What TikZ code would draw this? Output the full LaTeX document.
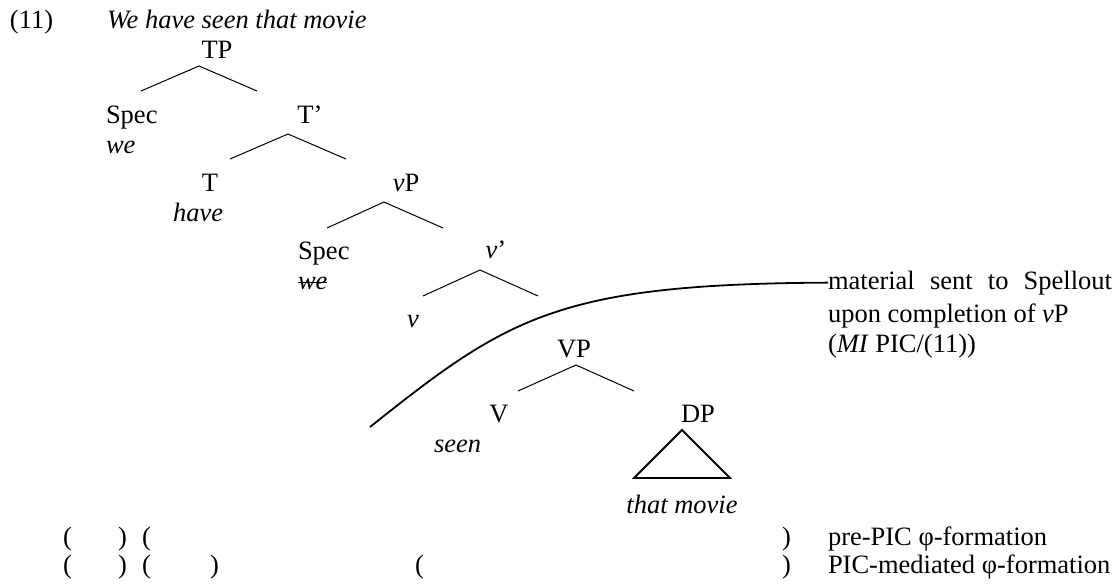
\documentclass[tikz,border=0pt]{standalone}
\usepackage{fontspec}
\setmainfont{Liberation Serif}
\begin{document}
\begin{tikzpicture}[x=0.5pt,y=-0.5pt,
  lbl/.style={inner sep=0pt,outer sep=0pt,font=\fontsize{13.25}{15}\selectfont},
  lw/.style={lbl,anchor=base west},
  lc/.style={lbl,anchor=base},
  branch/.style={line width=0.5pt},
  strike/.style={line width=0.45pt},
  tri/.style={line width=0.9pt,line join=miter},
  spell/.style={line width=0.9pt}]
\useasboundingbox (0,0) rectangle (1119,584);

% example line
\node[lw] (ex) at (10,28) {(11)};
\node[lw] (title) at (107,28) {\textit{We have seen that movie}};

% tree labels
\node[lc] (TP) at (217,58) {TP};
\node[lw] (spec1) at (106,123) {Spec};
\node[lw] (we1) at (106,153) {\textit{we}};
\node[lc] (Tbar) at (310,123) {T’};
\node[lc] (T) at (210,191) {T};
\node[lw] (have) at (173,221) {\textit{have}};
\node[lc] (vP) at (406,191) {\textit{v}P};
\node[lw] (spec2) at (298,259) {Spec};
\node[lw] (we2) at (298,289) {\textit{we}};
\draw[strike] ([yshift=3.3pt]we2.base west) -- ([yshift=3.3pt]we2.base east);
\node[lc] (vbar) at (496,258) {\textit{v}’};
\node[lw] (v) at (407,327) {\textit{v}};
\node[lc] (VP) at (574,357) {VP};
\node[lc] (V) at (499,422) {V};
\node[lw] (seen) at (434,452) {\textit{seen}};
\node[lc] (DP) at (698,422) {DP};
\node[lc] (movie) at (682,513) {\textit{that movie}};

% branch points
\coordinate (tpA) at (199,66);  \coordinate (tpL) at (141,91);  \coordinate (tpR) at (257,91);
\coordinate (tbA) at (288,134); \coordinate (tbL) at (230,159); \coordinate (tbR) at (346,159);
\coordinate (vpA) at (384,202); \coordinate (vpL) at (327,228); \coordinate (vpR) at (443,228);
\coordinate (vbA) at (480,270); \coordinate (vbL) at (423,296); \coordinate (vbR) at (538,296);
\coordinate (VPA) at (576,365); \coordinate (VPL) at (518,391); \coordinate (VPR) at (634,391);
\coordinate (dpA) at (682,430); \coordinate (dpL) at (634,478); \coordinate (dpR) at (730,478);

\draw[branch] (tpL) -- (tpA) -- (tpR);
\draw[branch] (tbL) -- (tbA) -- (tbR);
\draw[branch] (vpL) -- (vpA) -- (vpR);
\draw[branch] (vbL) -- (vbA) -- (vbR);
\draw[branch] (VPL) -- (VPA) -- (VPR);
\draw[tri] (dpA) -- (dpL) -- (dpR) -- cycle;

% spellout annotation
\node[lw] (mat) at (828,289) {\makebox[142pt][s]{material sent to Spellout}};
\node[lw] (upon) at (828,322) {upon completion of \textit{v}P};
\node[lw] (mi) at (828,352) {(\textit{MI} PIC/(11))};
\coordinate (cutS) at (370,427);
\draw[spell] (cutS) .. controls (508,317) and (558,284) .. (mat.west);

% phrasing rows
\node[lw] (r1a) at (63,545) {(};
\node[lw] (r1b) at (118,545) {)};
\node[lw] (r1c) at (142,545) {(};
\node[lw] (r1d) at (782,545) {)};
\node[lw] (pre) at (828,545) {pre-PIC φ-formation};
\node[lw] (r2a) at (63,573) {(};
\node[lw] (r2b) at (118,573) {)};
\node[lw] (r2c) at (142,573) {(};
\node[lw] (r2d) at (210,573) {)};
\node[lw] (r2e) at (415,573) {(};
\node[lw] (r2f) at (782,573) {)};
\node[lw] (pic) at (828,573) {PIC-mediated φ-formation};
\end{tikzpicture}
\end{document}
